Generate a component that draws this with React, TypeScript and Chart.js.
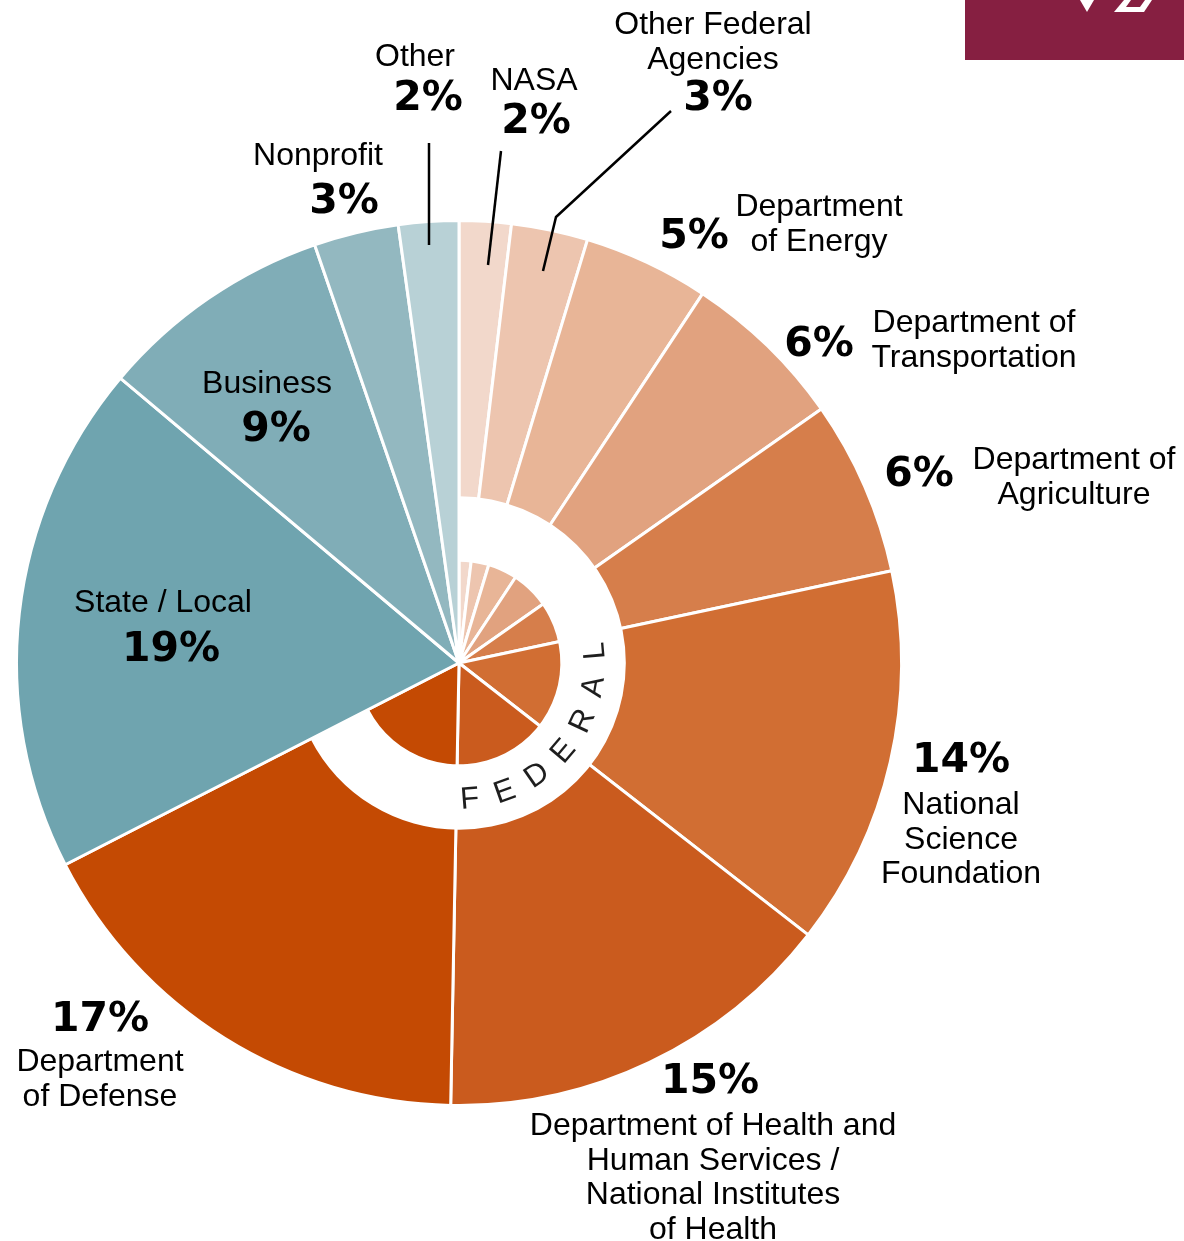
import React, { useEffect, useRef } from "react";
import { Chart, registerables } from "chart.js";

Chart.register(...registerables);

// ---------- data ----------
const categories: string[] = [
  "NASA",
  "Other Federal Agencies",
  "Department of Energy",
  "Department of Transportation",
  "Department of Agriculture",
  "National Science Foundation",
  "Department of Health and Human Services / National Institutes of Health",
  "Department of Defense",
  "State / Local",
  "Business",
  "Nonprofit",
  "Other",
];
const shares: number[] = [1.9, 2.8, 4.6, 6.0, 6.4, 13.9, 14.8, 17.2, 18.7, 8.6, 3.1, 2.2];
const percentLabels: string[] = ["2%", "3%", "5%", "6%", "6%", "14%", "15%", "17%", "19%", "9%", "3%", "2%"];
const nameLines: string[][] = [
  ["NASA"],
  ["Other Federal", "Agencies"],
  ["Department", "of Energy"],
  ["Department of", "Transportation"],
  ["Department of", "Agriculture"],
  ["National", "Science", "Foundation"],
  ["Department of Health and", "Human Services /", "National Institutes", "of Health"],
  ["Department", "of Defense"],
  ["State / Local"],
  ["Business"],
  ["Nonprofit"],
  ["Other"],
];
const federalFlags: boolean[] = [true, true, true, true, true, true, true, true, false, false, false, false];
const sliceColors: string[] = [
  "#f2d8cb", "#edc5af", "#e8b597", "#e1a27f", "#d67e4b", "#d16e33", "#ca5b1e", "#c44a03",
  "#6fa4af", "#80adb7", "#93b8c0", "#b8d1d6",
];
const ringText = "FEDERAL";

// ---------- label layout (offsets from the pie centre, px) ----------
const nameOffsets: [number, number][] = [
  [75, -584], [254, -640], [360, -458], [515, -342], [615, -205], [502, 140],
  [254, 461], [-359, 397], [-296, -62], [-192, -281], [-141, -509], [-44, -608],
];
const pctOffsets: [number, number][] = [
  [77, -545], [259, -568], [235, -430], [360, -322], [460, -192], [502, 94],
  [251, 415], [-359, 353], [-288, -17], [-183, -237], [-115, -465], [-31, -568],
];
const leaderLines: [number, number][][] = [
  [[-30, -520], [-30, -418]],
  [[42, -512], [29, -398]],
  [[212, -552], [97, -446], [84, -392]],
];

const REG_SIZE = 32;
const BOLD_SIZE = 41;
const LINE_H = 34.5;
const REG_FONT = `${REG_SIZE}px "Liberation Sans", Arial, sans-serif`;
const BOLD_FONT = `bold ${BOLD_SIZE}px "DejaVu Sans", "Liberation Sans", sans-serif`;

const overlayPlugin = {
  id: "overlay",
  afterDatasetsDraw(chart: any) {
    const ctx: CanvasRenderingContext2D = chart.ctx;
    const meta = chart.getDatasetMeta(0);
    const arcs = meta.data as any[];
    if (!arcs.length) return;
    const cx = arcs[0].x;
    const cy = arcs[0].y;
    const R = arcs[0].outerRadius;

    // federal band
    let first = -1, last = -1;
    federalFlags.forEach((f, i) => { if (f) { if (first < 0) first = i; last = i; } });
    const a0 = arcs[first].startAngle;
    const a1 = arcs[last].endAngle;
    const rIn = R * 0.229;
    const rOut = R * 0.377;
    ctx.save();
    ctx.fillStyle = "#ffffff";
    ctx.beginPath();
    ctx.arc(cx, cy, rOut, a0, a1);
    ctx.arc(cx, cy, rIn, a1, a0, true);
    ctx.closePath();
    ctx.fill();

    // FEDERAL letters
    const rMid = (rIn + rOut) / 2 + 3;
    ctx.fillStyle = "#1e1e1e";
    ctx.font = `31px "Liberation Sans", Arial, sans-serif`;
    ctx.textAlign = "center";
    ctx.textBaseline = "middle";
    const startDeg = 175.5;
    const stepDeg = -15.1;
    for (let i = 0; i < ringText.length; i++) {
      const th = startDeg + i * stepDeg; // clockwise from top
      const rad = ((th - 90) * Math.PI) / 180;
      ctx.save();
      ctx.translate(cx + rMid * Math.cos(rad), cy + rMid * Math.sin(rad));
      ctx.rotate(((th - 180) * Math.PI) / 180);
      ctx.fillText(ringText[i], 0, 0);
      ctx.restore();
    }

    // leader lines
    ctx.strokeStyle = "#000000";
    ctx.lineWidth = 2.5;
    leaderLines.forEach((pts) => {
      ctx.beginPath();
      pts.forEach(([dx, dy], j) => {
        if (j === 0) ctx.moveTo(cx + dx, cy + dy);
        else ctx.lineTo(cx + dx, cy + dy);
      });
      ctx.stroke();
    });

    // labels
    ctx.fillStyle = "#000000";
    ctx.textAlign = "center";
    ctx.textBaseline = "alphabetic";
    categories.forEach((_, i) => {
      const [nx, ny] = nameOffsets[i];
      ctx.font = REG_FONT;
      nameLines[i].forEach((line, k) => {
        ctx.fillText(line, cx + nx, cy + ny + k * LINE_H + REG_SIZE * 0.345);
      });
      const [px, py] = pctOffsets[i];
      ctx.font = BOLD_FONT;
      ctx.fillText(percentLabels[i], cx + px, cy + py + BOLD_SIZE * 0.36);
    });

    // corner logo fragment
    const W = chart.width;
    ctx.fillStyle = "#861f41";
    ctx.fillRect(965, 0, W - 965, 60);
    ctx.fillStyle = "#ffffff";
    ctx.beginPath();
    ctx.moveTo(1080, 0); ctx.lineTo(1094, 0); ctx.lineTo(1087, 12); ctx.closePath();
    ctx.fill();
    ctx.beginPath();
    ctx.moveTo(1124, 0); ctx.lineTo(1152, 0); ctx.lineTo(1144, 12); ctx.lineTo(1114, 12); ctx.closePath();
    ctx.fill();
    ctx.fillStyle = "#861f41";
    ctx.beginPath();
    ctx.moveTo(1131, 0); ctx.lineTo(1145, 0); ctx.lineTo(1140, 7); ctx.lineTo(1126, 7); ctx.closePath();
    ctx.fill();
    ctx.restore();
  },
};

export default function App() {
  const ref = useRef<HTMLCanvasElement | null>(null);
  useEffect(() => {
    if (!ref.current) return;
    const chart = new Chart(ref.current, {
      type: "pie",
      data: {
        labels: categories,
        datasets: [
          {
            data: shares,
            backgroundColor: sliceColors,
            borderColor: "#ffffff",
            borderWidth: 3,
          },
        ],
      },
      options: {
        responsive: false,
        animation: false,
        layout: { padding: { left: 15, top: 219, right: 281, bottom: 134 } },
        plugins: { legend: { display: false }, tooltip: { enabled: false } },
      },
      plugins: [overlayPlugin],
    });
    return () => chart.destroy();
  }, []);
  return (
    <div style={{ position: "absolute", left: 0, top: 0, width: 1184, height: 1241, background: "#ffffff" }}>
      <canvas ref={ref} width={1184} height={1241} style={{ display: "block" }} />
    </div>
  );
}
